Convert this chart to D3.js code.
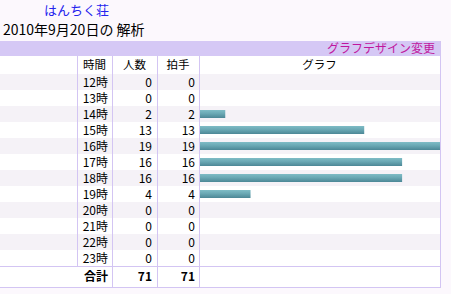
<!DOCTYPE html>
<html>
<head>
<meta charset="utf-8">
<script src="https://cdn.jsdelivr.net/npm/d3@7"></script>
<style>
  body { margin: 0; background: #fcf8fd; }
  svg { display: block; font-family: "Noto Sans CJK JP", sans-serif; }
</style>
</head>
<body>
<svg id="chart" width="451" height="294"></svg>
<script>
// data
const hours = ["12時","13時","14時","15時","16時","17時","18時","19時","20時","21時","22時","23時"];
const visitors = [0, 0, 2, 13, 19, 16, 16, 4, 0, 0, 0, 0];
const claps = [0, 0, 2, 13, 19, 16, 16, 4, 0, 0, 0, 0];
const totals = [71, 71]; // as printed in the table footer
const headers = ["時間", "人数", "拍手", "グラフ"];
const siteName = "はんちく荘";
const dateTitle = "2010年9月20日の 解析";
const designLink = "グラフデザイン変更";
const totalLabel = "合計";

const lineColor = "#d3c5f3";
const svg = d3.select("#chart");

// column edges
const cols = [0, 77, 112, 157, 199, 440];
const headTop = 56, bodyTop = 74, bodyBottom = 266, tableBottom = 287;

const y = d3.scaleBand().domain(hours).range([bodyTop, bodyBottom]);
const x = d3.scaleLinear().domain([0, d3.max(claps)]).range([200, 440]);

const defs = svg.append("defs");
const grad = defs.append("linearGradient").attr("id", "bar").attr("x1", 0).attr("x2", 0).attr("y1", 0).attr("y2", 1);
grad.append("stop").attr("offset", "0%").attr("stop-color", "#7fbcc6");
grad.append("stop").attr("offset", "45%").attr("stop-color", "#6aa8b4");
grad.append("stop").attr("offset", "100%").attr("stop-color", "#4c8796");

// titles
svg.append("text").attr("x", 44).attr("y", 14.5).attr("font-size", 13).attr("fill", "#2424ee").text(siteName);
svg.append("text").attr("x", 3).attr("y", 34.5).attr("font-size", 14).attr("fill", "#000").text(dateTitle);

// header bar
svg.append("rect").attr("x", 0).attr("y", 41).attr("width", 441).attr("height", 15).attr("fill", "#d5c8f5");
svg.append("text").attr("x", 435).attr("y", 53).attr("font-size", 12).attr("text-anchor", "end")
  .attr("fill", "#c0169e").text(designLink);

// table background
svg.append("rect").attr("x", 0).attr("y", headTop).attr("width", 440).attr("height", tableBottom - headTop).attr("fill", "#fff");

// alternating rows
svg.append("g").selectAll("rect").data(hours).enter().append("rect")
  .attr("x", 0).attr("y", d => y(d)).attr("width", 440).attr("height", y.bandwidth())
  .attr("fill", (d, i) => i % 2 === 0 ? "#f5f2f7" : "#fff");

// bars
svg.append("g").selectAll("rect").data(claps).enter().append("rect")
  .attr("x", x(0)).attr("y", (d, i) => y(hours[i]) + 4)
  .attr("width", d => x(d) - x(0)).attr("height", 8)
  .attr("fill", "url(#bar)");

// grid lines
const grid = svg.append("g").attr("stroke", lineColor).attr("stroke-width", 1).attr("shape-rendering", "crispEdges");
grid.append("line").attr("x1", cols[1] + 0.5).attr("x2", cols[1] + 0.5).attr("y1", headTop).attr("y2", bodyBottom);
[2, 3, 4].forEach(c => {
  grid.append("line").attr("x1", cols[c] + 0.5).attr("x2", cols[c] + 0.5).attr("y1", headTop).attr("y2", tableBottom);
});
grid.append("line").attr("x1", cols[5] + 0.5).attr("x2", cols[5] + 0.5).attr("y1", 41).attr("y2", tableBottom + 1);
grid.append("line").attr("x1", 0).attr("x2", 441).attr("y1", bodyBottom + 0.5).attr("y2", bodyBottom + 0.5);
grid.append("line").attr("x1", 0).attr("x2", 441).attr("y1", tableBottom + 0.5).attr("y2", tableBottom + 0.5);

// header texts
svg.append("g").selectAll("text").data(headers).enter().append("text")
  .attr("x", (d, i) => (cols[i + 1] + cols[i + 2]) / 2)
  .attr("y", headTop + 13).attr("font-size", 11.5).attr("text-anchor", "middle").attr("fill", "#000")
  .text(d => d);

// body texts
const body = svg.append("g").attr("font-size", 12).attr("text-anchor", "end").attr("fill", "#000");
hours.forEach((h, i) => {
  const by = y(h) + 12.5;
  body.append("text").attr("x", cols[2] - 4).attr("y", by).text(h);
  body.append("text").attr("x", cols[3] - 5).attr("y", by).text(visitors[i]);
  body.append("text").attr("x", cols[4] - 4).attr("y", by).text(claps[i]);
});

// totals
const tot = svg.append("g").attr("font-size", 12).attr("font-weight", "bold").attr("text-anchor", "end").attr("fill", "#000");
const ty = bodyBottom + 14.5;
tot.append("text").attr("x", cols[2] - 4).attr("y", ty).text(totalLabel);
tot.append("text").attr("x", cols[3] - 5).attr("y", ty).text(totals[0]);
tot.append("text").attr("x", cols[4] - 4).attr("y", ty).text(totals[1]);
</script>
</body>
</html>
